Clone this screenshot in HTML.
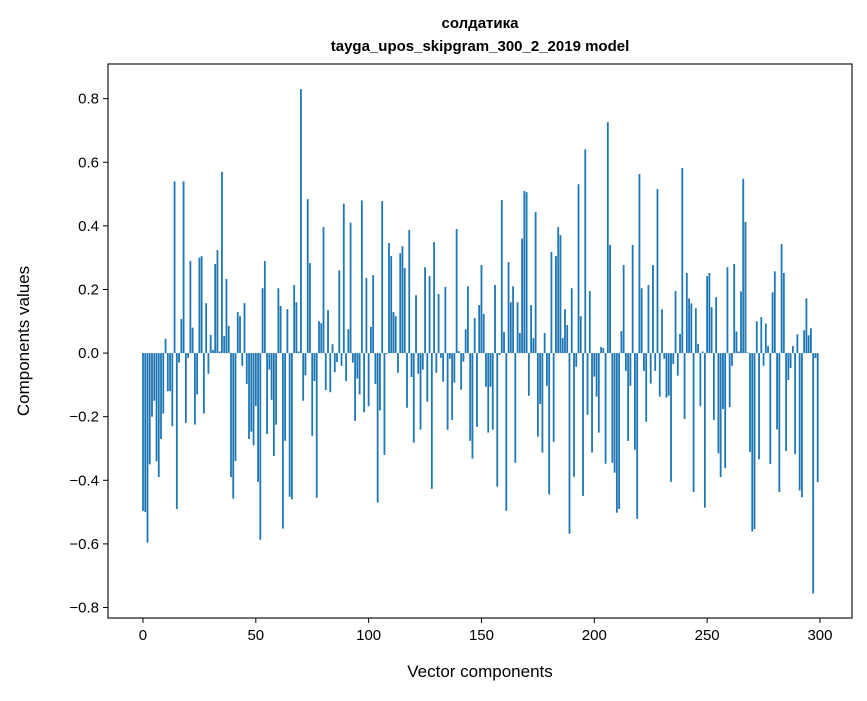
<!DOCTYPE html>
<html><head><meta charset="utf-8"><style>
body{margin:0;background:#fff}
svg text{font-family:"Liberation Sans","DejaVu Sans",sans-serif;fill:#000}
</style></head><body>
<svg id="chart" width="867" height="696" viewBox="0 0 867 696" xmlns="http://www.w3.org/2000/svg">
<rect width="867" height="696" fill="#fff"/>
<text x="480" y="28" text-anchor="middle" font-size="15" font-weight="bold">солдатика</text>
<text x="480" y="51" text-anchor="middle" font-size="15" font-weight="bold">tayga_upos_skipgram_300_2_2019 model</text>
<g id="bars"></g>
<g id="axes"></g>
<text x="480" y="677" text-anchor="middle" font-size="17">Vector components</text>
<text transform="translate(29,341) rotate(-90)" text-anchor="middle" font-size="17">Components values</text>
</svg>
<script>
const values = [
-0.496,-0.5,-0.596,-0.35,-0.2,-0.15,-0.34,-0.39,-0.27,-0.19,
0.045,-0.12,-0.12,-0.23,0.54,-0.49,-0.03,0.107,0.54,-0.22,
-0.015,0.29,0.08,-0.225,-0.13,0.3,0.305,-0.19,0.157,-0.065,
0.057,0.01,0.28,0.324,0.005,0.57,0.054,0.233,0.085,-0.39,
-0.458,-0.339,0.129,0.116,-0.04,0.157,-0.097,-0.27,-0.247,-0.29,
-0.166,-0.405,-0.587,0.204,0.29,-0.255,-0.052,-0.147,-0.324,-0.225,
0.204,0.148,-0.552,-0.276,0.138,-0.452,-0.46,0.214,0.16,0.005,
0.83,-0.15,-0.07,0.484,0.283,-0.26,-0.088,-0.455,0.1,0.094,
0.396,-0.116,0.135,-0.123,0.028,-0.06,-0.028,0.26,-0.04,0.47,
-0.088,0.075,0.41,-0.03,-0.213,-0.08,-0.13,0.48,-0.186,0.236,
-0.167,0.082,0.245,-0.097,-0.47,-0.18,0.478,-0.32,-0.003,0.346,
0.305,0.129,0.116,-0.062,0.314,0.336,0.267,-0.172,0.387,-0.075,
-0.282,0.182,-0.065,-0.241,-0.052,0.27,-0.153,0.242,-0.427,0.349,
-0.062,0.186,-0.015,-0.09,0.208,-0.241,-0.018,-0.21,-0.093,0.39,
0.006,-0.115,-0.027,0.075,0.21,-0.276,-0.332,0.11,-0.232,0.151,
0.277,0.123,-0.106,-0.25,-0.106,-0.241,0.214,-0.42,-0.006,0.481,
0.066,-0.496,0.286,0.16,0.21,-0.345,0.16,0.063,0.36,0.51,
0.506,-0.134,0.151,0.047,0.443,-0.263,-0.16,-0.313,0.063,-0.103,
-0.445,0.318,-0.279,0.305,0.396,0.371,0.047,0.138,0.088,-0.568,
0.204,-0.389,-0.043,0.531,0.116,-0.449,0.641,-0.194,0.195,-0.313,
-0.074,-0.137,-0.25,0.019,0.016,-0.348,0.726,0.34,-0.345,-0.376,
-0.502,-0.49,0.069,0.277,-0.056,-0.276,-0.103,0.34,-0.304,-0.521,
0.563,0.204,-0.056,-0.216,0.214,-0.096,0.277,-0.056,0.516,-0.137,
0.138,-0.018,-0.14,-0.134,-0.405,-0.034,0.195,-0.071,0.06,0.582,
-0.207,0.252,0.172,0.156,-0.437,0.141,0.029,-0.167,0.005,-0.486,
0.242,0.252,0.144,-0.21,0.176,-0.315,-0.39,-0.176,-0.362,0.27,
-0.17,-0.04,0.28,0.068,0.005,0.194,0.548,0.412,0.002,-0.311,
-0.561,-0.554,0.1,-0.334,0.113,-0.04,0.093,0.022,-0.349,0.191,
0.257,-0.24,-0.437,0.343,0.252,-0.308,-0.085,-0.047,0.022,-0.318,
0.059,-0.432,-0.453,0.072,0.172,0.056,0.078,-0.756,-0.016,-0.406
];
const xTicks = [0,50,100,150,200,250,300];
const yTicks = [-0.8,-0.6,-0.4,-0.2,0.0,0.2,0.4,0.6,0.8];
const yTickLabels = ["\u22120.8","\u22120.6","\u22120.4","\u22120.2","0.0","0.2","0.4","0.6","0.8"];

const L=108,R=852,T=64,B=618;
const xMin=-15.5,xMax=314.2,yMin=-0.833,yMax=0.909;
const sx=v=>L+(v-xMin)/(xMax-xMin)*(R-L);
const sy=v=>B-(v-yMin)/(yMax-yMin)*(B-T);
const NS="http://www.w3.org/2000/svg";
const bars=document.getElementById('bars');
values.forEach((v,i)=>{
  const r=document.createElementNS(NS,'rect');
  const x0=sx(i-0.4),x1=sx(i+0.4);
  const y0=sy(Math.max(v,0)),y1=sy(Math.min(v,0));
  r.setAttribute('x',x0);r.setAttribute('width',x1-x0);
  r.setAttribute('y',y0);r.setAttribute('height',Math.max(y1-y0,0.01));
  r.setAttribute('fill','#1f77b4');
  
  
  bars.appendChild(r);
});
const axes=document.getElementById('axes');
const frame=document.createElementNS(NS,'rect');
frame.setAttribute('x',L);frame.setAttribute('y',T);frame.setAttribute('width',R-L);frame.setAttribute('height',B-T);
frame.setAttribute('fill','none');frame.setAttribute('stroke','#000');frame.setAttribute('stroke-width','1.1');


axes.appendChild(frame);
xTicks.forEach(t=>{
  const x=sx(t);
  const l=document.createElementNS(NS,'line');
  l.setAttribute('x1',x);l.setAttribute('x2',x);l.setAttribute('y1',B);l.setAttribute('y2',B+5);l.setAttribute('stroke','#000');
  
  
  axes.appendChild(l);
  const tx=document.createElementNS(NS,'text');
  tx.setAttribute('x',x);tx.setAttribute('y',B+22);tx.setAttribute('text-anchor','middle');tx.setAttribute('font-size','15');
  tx.textContent=t;
  
  
  axes.appendChild(tx);
});
yTicks.forEach((t,i)=>{
  const y=sy(t);
  const l=document.createElementNS(NS,'line');
  l.setAttribute('x1',L-5);l.setAttribute('x2',L);l.setAttribute('y1',y);l.setAttribute('y2',y);l.setAttribute('stroke','#000');
  
  
  axes.appendChild(l);
  const tx=document.createElementNS(NS,'text');
  tx.setAttribute('x',L-9);tx.setAttribute('y',y+5);tx.setAttribute('text-anchor','end');tx.setAttribute('font-size','15');
  tx.textContent=yTickLabels[i];
  
  
  axes.appendChild(tx);
});
</script>
</body></html>
